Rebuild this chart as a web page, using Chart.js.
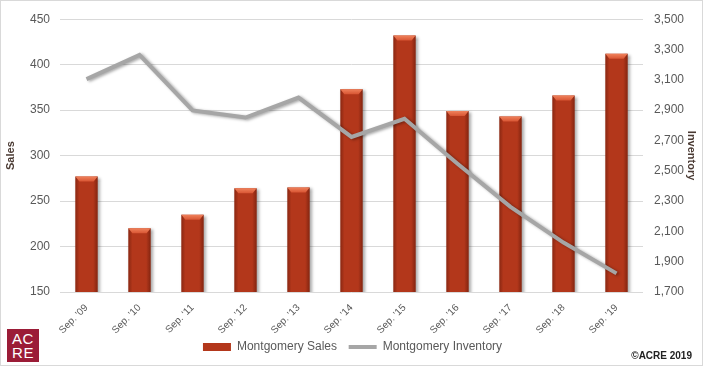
<!DOCTYPE html>
<html>
<head>
<meta charset="utf-8">
<script src="https://cdn.jsdelivr.net/npm/chart.js@4/dist/chart.umd.min.js"></script>
<style>
  html, body { margin: 0; padding: 0; background: #fff; }
  #wrap { position: relative; width: 703px; height: 366px; box-sizing: border-box; border: 1px solid #d9d9d9; }
  #wrap canvas { position: absolute; left: 0; top: 0; }
  #logo { position: absolute; left: 6px; top: 328px; width: 32px; height: 33px; background: #9b1c37;
          color: #fff; font: 15px/14px "Liberation Sans", Arial, sans-serif; letter-spacing: 0.5px;
          text-align: center; padding-top: 3px; box-sizing: border-box; }
  #copy { position: absolute; right: 10px; top: 349px; font: bold 10px "Liberation Sans", Arial, sans-serif; color: #222; }
</style>
</head>
<body>
<div id="wrap">
  <canvas id="chart" width="703" height="366"></canvas>
  <div id="logo">AC<br>RE</div>
  <div id="copy">©ACRE 2019</div>
</div>
<script>
// ── Data ──
const categories = ["Sep. '09", "Sep. '10", "Sep. '11", "Sep. '12", "Sep. '13", "Sep. '14",
                    "Sep. '15", "Sep. '16", "Sep. '17", "Sep. '18", "Sep. '19"];
const sales      = [277, 220, 235, 264, 265, 373, 432, 349, 343, 366, 412];
const inventory  = [3105, 3264, 2898, 2851, 2983, 2723, 2843, 2546, 2262, 2026, 1823];
const salesTicks = [150, 200, 250, 300, 350, 400, 450];
const invTicks   = [1700, 1900, 2100, 2300, 2500, 2700, 2900, 3100, 3300, 3500];

const tickColor = '#595959';
const font = "'Liberation Sans', Arial, sans-serif";

// ── Bar bevel / shading ──
const barShade = {
    id: 'barShade',
    beforeDatasetDraw(chart, args) {
        const c = chart.ctx;
        c.save();
        c.shadowColor = 'rgba(0,0,0,0.35)';
        c.shadowBlur = 3;
        c.shadowOffsetX = 2;
        c.shadowOffsetY = 1;
    },
    afterDatasetDraw(chart, args) {
        const c = chart.ctx;
        c.restore();
        if (args.meta.type !== 'bar') return;
        const bottom = chart.chartArea.bottom;
        args.meta.data.forEach(bar => {
            const l = bar.x - bar.width / 2, r = bar.x + bar.width / 2;
            const t = bar.y, b = Math.min(bar.base, bottom);
            const g = c.createLinearGradient(l, 0, r, 0);
            g.addColorStop(0, 'rgba(60,10,0,0.35)');
            g.addColorStop(0.18, 'rgba(60,10,0,0)');
            g.addColorStop(0.8, 'rgba(60,10,0,0)');
            g.addColorStop(1, 'rgba(60,10,0,0.4)');
            c.fillStyle = g;
            c.fillRect(l, t, r - l, b - t);
            // top bevel
            c.beginPath();
            c.moveTo(l, t); c.lineTo(r, t); c.lineTo(r - 4, t + 5); c.lineTo(l + 4, t + 5); c.closePath();
            const tg = c.createLinearGradient(0, t, 0, t + 5);
            tg.addColorStop(0, '#f0825c');
            tg.addColorStop(1, '#d85533');
            c.fillStyle = tg;
            c.fill();
        });
    }
};

const ctx = document.getElementById('chart').getContext('2d');
new Chart(ctx, {
    data: {
        labels: categories,
        datasets: [
            {
                type: 'line',
                label: 'Montgomery Inventory',
                data: inventory,
                yAxisID: 'yInv',
                borderColor: '#a6a6a6',
                backgroundColor: '#a6a6a6',
                borderWidth: 4,
                pointRadius: 0,
                pointStyle: 'line',
                tension: 0,
                order: 0
            },
            {
                type: 'bar',
                label: 'Montgomery Sales',
                data: sales,
                yAxisID: 'ySales',
                backgroundColor: '#b3371b',
                borderWidth: 0,
                pointStyle: 'rect',
                barPercentage: 0.42,
                categoryPercentage: 1,
                order: 1
            }
        ]
    },
    plugins: [barShade],
    options: {
        responsive: false,
        animation: false,
        layout: { padding: { top: 9, bottom: 4 } },
        plugins: {
            legend: {
                position: 'bottom',
                reverse: true,
                labels: {
                    usePointStyle: true,
                    boxHeight: 8,
                    pointStyleWidth: 28,
                    padding: 5,
                    color: tickColor,
                    font: { family: font, size: 12 },
                    generateLabels: chart => {
                        const items = Chart.defaults.plugins.legend.labels.generateLabels(chart);
                        // widen the gap after the first legend entry
                        items.forEach(it => { if (it.datasetIndex === 1) it.text += '  '; });
                        return items;
                    }
                }
            },
            tooltip: { enabled: false }
        },
        scales: {
            x: {
                afterFit: s => { s.height = 44; },
                grid: { display: false },
                border: { display: false },
                ticks: {
                    color: tickColor,
                    font: { family: font, size: 10 },
                    maxRotation: 45,
                    minRotation: 45,
                    padding: 2
                }
            },
            ySales: {
                position: 'left',
                min: 150,
                max: 450,
                afterBuildTicks: s => { s.ticks = salesTicks.map(v => ({ value: v })); },
                afterFit: s => { s.width = 59; },
                grid: { color: '#d9d9d9', drawTicks: false },
                border: { display: false },
                ticks: { color: tickColor, font: { family: font, size: 12 }, padding: 10 },
                title: {
                    display: true,
                    text: 'Sales',
                    color: '#4a3a33',
                    font: { family: font, size: 11, weight: 'bold' },
                    padding: { top: 3, bottom: 0 }
                }
            },
            yInv: {
                position: 'right',
                min: 1700,
                max: 3500,
                afterBuildTicks: s => { s.ticks = invTicks.map(v => ({ value: v })); },
                afterFit: s => { s.width = 61; },
                grid: { display: false, drawTicks: false },
                border: { display: false },
                ticks: {
                    color: tickColor,
                    font: { family: font, size: 12 },
                    padding: 11,
                    callback: v => v.toLocaleString('en-US')
                },
                title: {
                    display: true,
                    text: 'Inventory',
                    color: '#4a3a33',
                    font: { family: font, size: 11, weight: 'bold' },
                    padding: { top: 6, bottom: 0 }
                }
            }
        }
    }
});
</script>
</body>
</html>
